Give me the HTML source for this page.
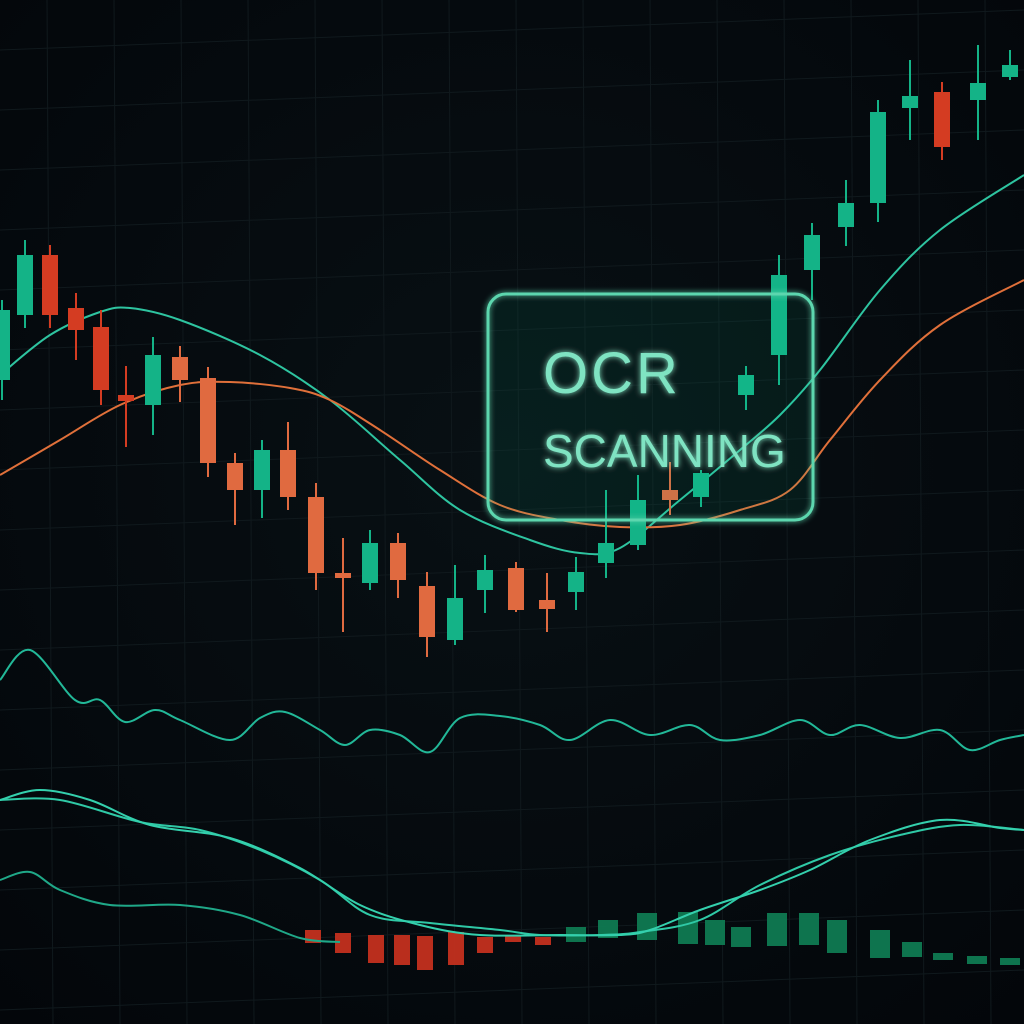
<!DOCTYPE html>
<html><head><meta charset="utf-8"><style>
html,body{margin:0;padding:0;background:#04080c;}
svg{display:block;}
</style></head><body>
<svg id="chart" width="1024" height="1024" viewBox="0 0 1024 1024" xmlns="http://www.w3.org/2000/svg">
<defs>
<radialGradient id="bg" cx="50%" cy="45%" r="75%"><stop offset="0" stop-color="#081014"/><stop offset="1" stop-color="#03060a"/></radialGradient>
<filter id="glow" x="-20%" y="-20%" width="140%" height="140%"><feGaussianBlur stdDeviation="3" result="b"/><feMerge><feMergeNode in="b"/><feMergeNode in="SourceGraphic"/></feMerge></filter>
</defs>
<rect width="1024" height="1024" fill="url(#bg)"/>
<g id="grid"></g>
<g id="ma"></g>
<g id="candles"></g>
<g id="osc"></g>
<g id="macd"></g>
<g filter="url(#glow)">
<rect x="488" y="294" width="325" height="226" rx="18" fill="rgba(60,200,160,0.04)" stroke="#5cd6ae" stroke-width="3"/>
<text x="543" y="393" font-family="Liberation Sans, sans-serif" font-size="58" fill="#7fe3c2" letter-spacing="3">OCR</text>
<text x="543" y="467" font-family="Liberation Sans, sans-serif" font-size="46" fill="#7fe3c2">SCANNING</text>
</g>
</svg>
<script>
const NS='http://www.w3.org/2000/svg';
// candle data (price units; pixel y = 1000 - price)
const candleX=[2,25,50,76,101,126,153,180,208,235,262,288,316,343,370,398,427,455,485,516,547,576,606,638,670,701,746,779,812,846,878,910,942,978,1010];
const openP =[620,685,745,692,673,605,595,643,622,537,510,550,503,427,417,457,414,360,410,432,400,408,437,455,510,503,605,645,730,773,797,892,908,900,923];
const closeP=[690,745,685,670,610,599,645,620,537,510,550,503,427,422,457,420,363,402,430,390,391,428,457,500,500,527,625,725,765,797,888,904,853,917,935];
const highP =[700,760,755,707,690,634,663,654,633,547,560,578,517,462,470,467,428,435,445,438,427,443,510,525,538,530,634,745,777,820,900,940,918,955,950];
const lowP  =[600,672,672,640,595,553,565,598,523,475,482,490,410,368,410,402,343,355,387,388,368,390,422,450,485,493,590,615,700,754,778,860,840,860,920];
const candleCol=['g','g','r','r','r','r','g','o','o','o','g','o','o','o','g','o','o','g','g','o','o','g','g','g','o','g','g','g','g','g','g','g','r','g','g'];
const maFastX=[0,50,100,130,180,260,330,400,460,530,580,620,680,740,780,820,880,940,1024];
const maFastP=[625,665,688,692,680,645,600,540,490,460,447,452,500,550,585,630,710,770,825];
const maSlowX=[0,60,120,180,230,290,330,380,440,500,560,620,680,740,790,830,880,940,1024];
const maSlowP=[525,560,595,615,618,612,600,570,530,495,480,473,475,490,510,560,620,675,720];
const oscX=[0,30,75,100,125,155,180,230,260,285,320,345,370,400,430,460,500,540,570,610,650,690,720,760,800,830,860,900,940,970,1000,1024];
const oscV=[320,350,300,300,278,290,280,260,282,288,270,255,270,265,248,282,284,275,260,280,265,275,260,265,280,265,275,262,270,250,260,265];
const macdX=[0,40,90,150,230,300,360,420,480,560,620,650,700,760,810,870,940,1000,1024];
const macdA=[200,210,200,175,162,132,95,75,65,65,65,70,90,110,130,160,180,172,170];
const sigX=[0,60,140,200,260,320,370,430,500,540,600,640,700,760,830,900,960,1024];
const sigB=[200,200,178,170,150,120,85,77,70,65,65,68,80,115,145,165,175,170];
const thirdX=[0,30,60,110,180,240,300,340];
const thirdC=[120,128,110,95,95,85,62,58];
const histX=[315,345,378,404,427,458,487,515,545,576,608,647,688,715,741,777,809,837,880,912,943,977,1010];
const histTop=[70,67,65,65,64,68,63,65,63,73,80,87,88,80,73,87,87,80,70,58,47,44,42];
const histBot=[57,47,37,35,30,35,47,58,55,58,62,60,56,55,53,54,55,47,42,43,40,36,35];
function py(p){return 1000-p;}
function el(t,a,parent){const e=document.createElementNS(NS,t);for(const k in a)e.setAttribute(k,a[k]);parent.appendChild(e);return e;}
function smooth(xs,ys){const n=xs.length;let d='M'+xs[0]+','+ys[0];
for(let i=0;i<n-1;i++){const x0=xs[Math.max(0,i-1)],y0=ys[Math.max(0,i-1)],x1=xs[i],y1=ys[i],x2=xs[i+1],y2=ys[i+1],x3=xs[Math.min(n-1,i+2)],y3=ys[Math.min(n-1,i+2)];
const c1x=x1+(x2-x0)/6,c1y=y1+(y2-y0)/6,c2x=x2-(x3-x1)/6,c2y=y2-(y3-y1)/6;
d+=' C'+c1x.toFixed(1)+','+c1y.toFixed(1)+' '+c2x.toFixed(1)+','+c2y.toFixed(1)+' '+x2+','+y2;}return d;}
// grid
const grid=document.getElementById('grid');
for(let i=0;i<17;i++){const x=-20+i*67;
const l=el('line',{x1:x,y1:0,x2:x+6,y2:1024,stroke:'#10191d','stroke-width':1},grid);

}
for(let j=0;j<18;j++){const y=30+j*60;
const l=el('line',{x1:0,y1:y+20,x2:1024,y2:y-20,stroke:'#10191d','stroke-width':1},grid);

}
// MAs
const ma=document.getElementById('ma');
let p=el('path',{d:smooth(maFastX,maFastP.map(py)),fill:'none',stroke:'#2ec4a0','stroke-width':2},ma);


p=el('path',{d:smooth(maSlowX,maSlowP.map(py)),fill:'none',stroke:'#e0703a','stroke-width':2},ma);


// candles
const cg=document.getElementById('candles');
const cols={g:'#14b387',r:'#d43c22',o:'#e06a40'};
for(let i=0;i<candleX.length;i++){const x=candleX[i],c=cols[candleCol[i]];
const g=el('g',{},cg);


el('line',{x1:x,y1:py(highP[i]),x2:x,y2:py(lowP[i]),stroke:c,'stroke-width':2},g);
const top=Math.min(py(openP[i]),py(closeP[i])),h=Math.max(4,Math.abs(openP[i]-closeP[i]));
el('rect',{x:x-8,y:top,width:16,height:h,fill:c},g);}
// oscillator
const osc=document.getElementById('osc');
p=el('path',{d:smooth(oscX,oscV.map(py)),fill:'none',stroke:'#22b898','stroke-width':2},osc);


// macd
const mg=document.getElementById('macd');
for(let i=0;i<histX.length;i++){const red=histX[i]<560;
const r=el('rect',{x:histX[i]-10,y:py(histTop[i]),width:red?16:20,height:histTop[i]-histBot[i],fill:red?'#c3301f':'#0f7a52',opacity:0.95},mg);

}
p=el('path',{d:smooth(thirdX,thirdC.map(py)),fill:'none',stroke:'#1fa888','stroke-width':2},mg);


p=el('path',{d:smooth(sigX,sigB.map(py)),fill:'none',stroke:'#2fc9a6','stroke-width':2},mg);


p=el('path',{d:smooth(macdX,macdA.map(py)),fill:'none',stroke:'#34d0ad','stroke-width':2},mg);


</script>
</body></html>
